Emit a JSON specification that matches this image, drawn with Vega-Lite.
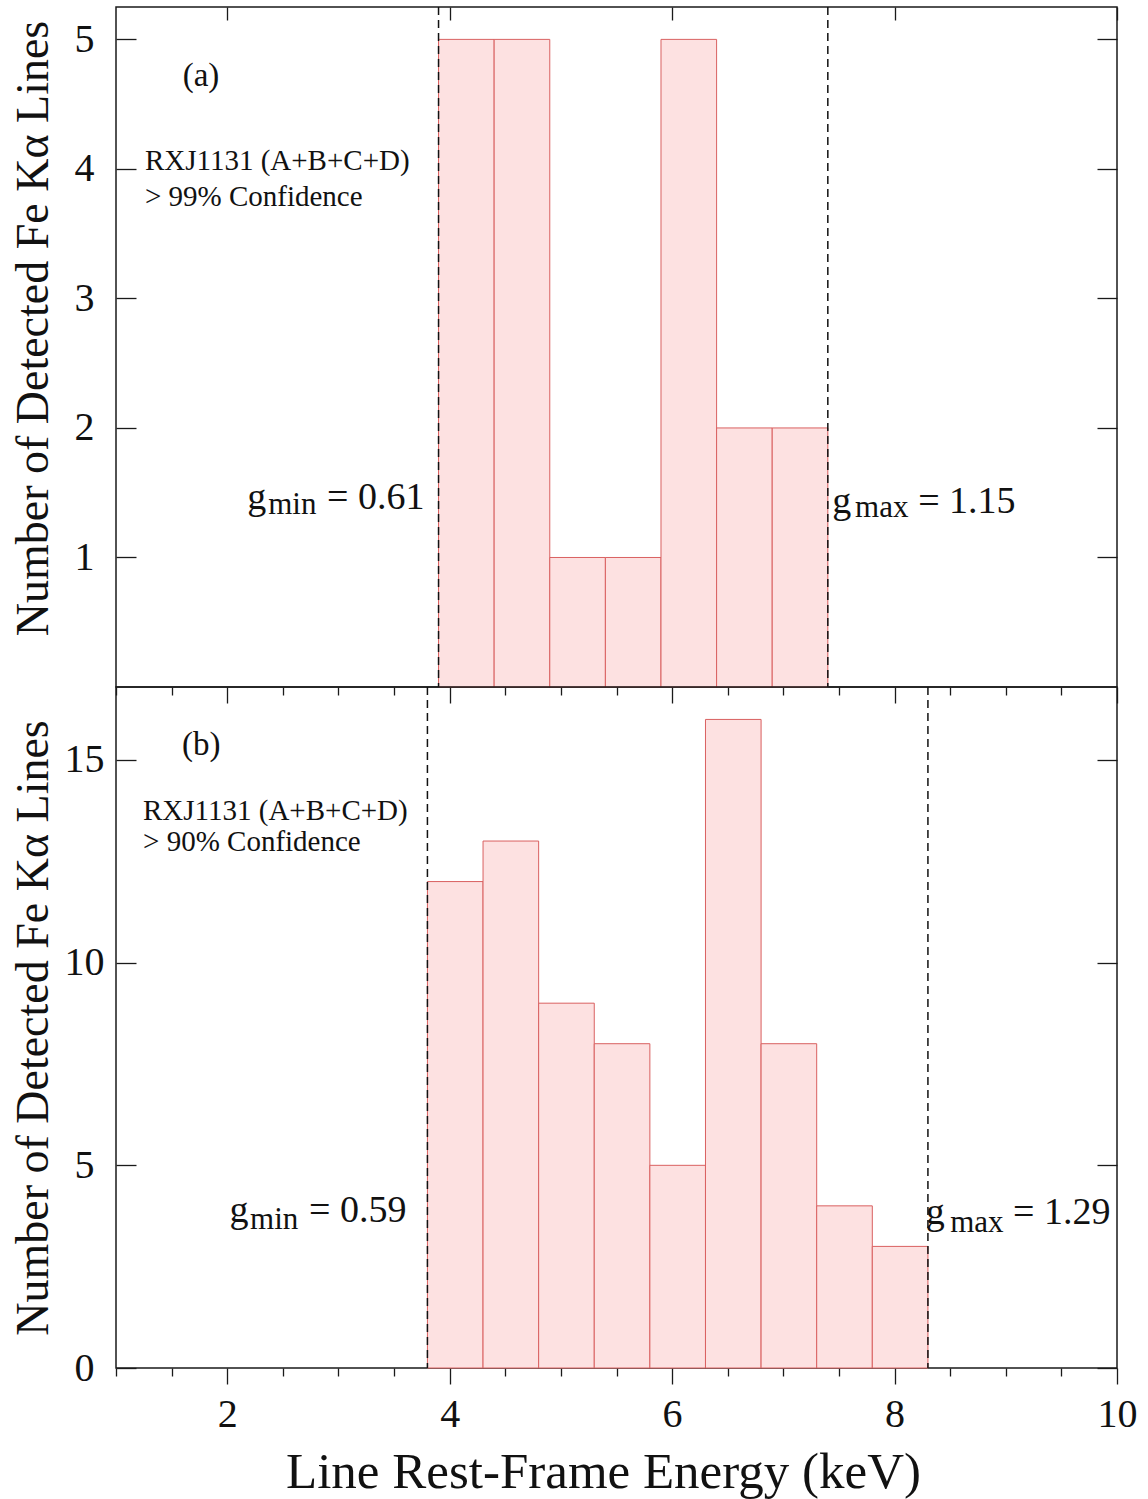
{
  "$schema": "https://vega.github.io/schema/vega-lite/v6.json",
  "padding": {"left": 9, "top": 5, "right": 5, "bottom": 5},
  "bounds": "flush",
  "spacing": 0,
  "config": {
    "font": "Liberation Serif",
    "view": {"stroke": "#1a1a1a", "strokeWidth": 1.5},
    "axis": {"domain": false, "grid": false, "tickColor": "#1a1a1a", "tickWidth": 1.3, "labelColor": "#111", "titleColor": "#111", "labelFont": "Liberation Serif", "titleFont": "Liberation Serif", "titleFontWeight": "normal", "labelFontSize": 40, "titleFontSize": 46, "labelFlush": false, "labelOverlap": false},
    "text": {"color": "#111"}
  },
  "datasets": {
    "barsA": [
      {"lo": 3.9, "hi": 4.4, "n": 5}, {"lo": 4.4, "hi": 4.9, "n": 5}, {"lo": 4.9, "hi": 5.4, "n": 1},
      {"lo": 5.4, "hi": 5.9, "n": 1}, {"lo": 5.9, "hi": 6.4, "n": 5}, {"lo": 6.4, "hi": 6.9, "n": 2},
      {"lo": 6.9, "hi": 7.4, "n": 2}
    ],
    "barsB": [
      {"lo": 3.8, "hi": 4.3, "n": 12}, {"lo": 4.3, "hi": 4.8, "n": 13}, {"lo": 4.8, "hi": 5.3, "n": 9},
      {"lo": 5.3, "hi": 5.8, "n": 8}, {"lo": 5.8, "hi": 6.3, "n": 5}, {"lo": 6.3, "hi": 6.8, "n": 16},
      {"lo": 6.8, "hi": 7.3, "n": 8}, {"lo": 7.3, "hi": 7.8, "n": 4}, {"lo": 7.8, "hi": 8.3, "n": 3}
    ],
    "gA": [{"g": 3.9}, {"g": 7.4}],
    "gB": [{"g": 3.8}, {"g": 8.3}],
    "notesA": [
      {"k": "tag", "t": "(a)", "x": 1.60, "y": 4.72},
      {"k": "info", "t": "RXJ1131 (A+B+C+D)", "x": 1.26, "y": 4.06},
      {"k": "info", "t": "> 99% Confidence", "x": 1.26, "y": 3.78},
      {"k": "main", "t": "g", "x": 2.18, "y": 1.378},
      {"k": "sub", "t": "min", "x": 2.368, "y": 1.332},
      {"k": "main", "t": "= 0.61", "x": 2.897, "y": 1.378},
      {"k": "main", "t": "g", "x": 7.44, "y": 1.347},
      {"k": "sub", "t": "max", "x": 7.645, "y": 1.309},
      {"k": "main", "t": "= 1.15", "x": 8.212, "y": 1.347}
    ],
    "notesB": [
      {"k": "tag", "t": "(b)", "x": 1.593, "y": 15.37},
      {"k": "info", "t": "RXJ1131 (A+B+C+D)", "x": 1.243, "y": 13.74},
      {"k": "info", "t": "> 90% Confidence", "x": 1.243, "y": 12.98},
      {"k": "main", "t": "g", "x": 2.02, "y": 3.6},
      {"k": "sub", "t": "min", "x": 2.205, "y": 3.43},
      {"k": "main", "t": "= 0.59", "x": 2.735, "y": 3.6},
      {"k": "main", "t": "g", "x": 8.28, "y": 3.553},
      {"k": "sub", "t": "max", "x": 8.5, "y": 3.356},
      {"k": "main", "t": "= 1.29", "x": 9.066, "y": 3.553}
    ]
  },
  "vconcat": [
    {
      "width": 1001,
      "height": 680,
      "resolve": {"axis": {"x": "independent", "y": "independent"}},
      "layer": [
        {
          "data": {"name": "barsA"},
          "mark": {"type": "rect", "fill": "#fde1e1", "stroke": "#d96060", "strokeWidth": 1},
          "encoding": {
            "x": {"field": "lo", "type": "quantitative", "scale": {"domain": [1, 10], "nice": false, "zero": false},
              "axis": {"orient": "bottom", "values": [2, 4, 6, 8, 10], "tickSize": 16, "labels": false, "title": null}},
            "x2": {"field": "hi"},
            "y": {"field": "n", "type": "quantitative", "scale": {"domain": [0, 5.25], "nice": false},
              "axis": {"orient": "left", "values": [1, 2, 3, 4, 5], "ticks": false, "tickSize": 0, "labelAlign": "center", "labelBaseline": "middle", "labelPadding": 32, "title": "Number of Detected Fe Kα Lines", "titleX": -69, "titleY": 321, "titleBaseline": "alphabetic"}},
            "y2": {"datum": 0}
          }
        },
        {
          "data": {"name": "gA"},
          "mark": {"type": "rule", "strokeDash": [8, 5], "strokeWidth": 1.5, "color": "#111"},
          "encoding": {
            "x": {"field": "g", "type": "quantitative", "scale": {"domain": [1, 10], "nice": false, "zero": false},
              "axis": {"orient": "bottom", "values": [1, 1.5, 2.5, 3, 3.5, 4.5, 5, 5.5, 6.5, 7, 7.5, 8.5, 9, 9.5], "tickSize": 8, "labels": false, "title": null}}
          }
        },
        {
          "data": {"name": "notesA"},
          "transform": [{"filter": "datum.k === 'info'"}],
          "mark": {"type": "text", "align": "left", "baseline": "middle", "fontSize": 29},
          "encoding": {
            "x": {"field": "x", "type": "quantitative", "scale": {"domain": [1, 10], "nice": false, "zero": false},
              "axis": {"orient": "top", "values": [2, 4, 6, 8, 10], "tickSize": -13, "labels": false, "title": null}},
            "y": {"field": "y", "type": "quantitative", "scale": {"domain": [0, 5.25], "nice": false},
              "axis": {"orient": "right", "values": [1, 2, 3, 4, 5], "tickSize": -20, "labels": false, "title": null}},
            "text": {"field": "t"}
          }
        },
        {
          "data": {"name": "notesA"},
          "transform": [{"filter": "datum.k === 'tag'"}],
          "mark": {"type": "text", "align": "left", "baseline": "middle", "fontSize": 33},
          "encoding": {
            "x": {"field": "x", "type": "quantitative", "scale": {"domain": [1, 10], "nice": false, "zero": false}, "axis": null},
            "y": {"field": "y", "type": "quantitative", "scale": {"domain": [0, 5.25], "nice": false},
              "axis": {"orient": "left", "values": [1, 2, 3, 4, 5], "tickSize": -20, "labels": false, "title": null}},
            "text": {"field": "t"}
          }
        },
        {
          "data": {"name": "notesA"},
          "transform": [{"filter": "datum.k === 'main'"}],
          "mark": {"type": "text", "align": "left", "baseline": "alphabetic", "fontSize": 38},
          "encoding": {
            "x": {"field": "x", "type": "quantitative", "scale": {"domain": [1, 10], "nice": false, "zero": false}, "axis": null},
            "y": {"field": "y", "type": "quantitative", "scale": {"domain": [0, 5.25], "nice": false}, "axis": null},
            "text": {"field": "t"}
          }
        },
        {
          "data": {"name": "notesA"},
          "transform": [{"filter": "datum.k === 'sub'"}],
          "mark": {"type": "text", "align": "left", "baseline": "alphabetic", "fontSize": 31},
          "encoding": {
            "x": {"field": "x", "type": "quantitative", "scale": {"domain": [1, 10], "nice": false, "zero": false}, "axis": null},
            "y": {"field": "y", "type": "quantitative", "scale": {"domain": [0, 5.25], "nice": false}, "axis": null},
            "text": {"field": "t"}
          }
        }
      ]
    },
    {
      "width": 1001,
      "height": 681,
      "resolve": {"axis": {"x": "independent", "y": "independent"}},
      "layer": [
        {
          "data": {"name": "barsB"},
          "mark": {"type": "rect", "fill": "#fde1e1", "stroke": "#d96060", "strokeWidth": 1},
          "encoding": {
            "x": {"field": "lo", "type": "quantitative", "scale": {"domain": [1, 10], "nice": false, "zero": false},
              "axis": {"orient": "bottom", "values": [2, 4, 6, 8, 10], "ticks": false, "tickSize": 0, "labelBaseline": "alphabetic", "labelPadding": 58, "title": "Line Rest-Frame Energy (keV)", "titleFontSize": 51, "titleX": 487, "titleY": 119, "titleBaseline": "alphabetic"}},
            "x2": {"field": "hi"},
            "y": {"field": "n", "type": "quantitative", "scale": {"domain": [0, 16.8], "nice": false},
              "axis": {"orient": "left", "values": [0, 5, 10, 15], "ticks": false, "tickSize": 0, "labelAlign": "center", "labelBaseline": "middle", "labelPadding": 32, "title": "Number of Detected Fe Kα Lines", "titleX": -69, "titleBaseline": "alphabetic"}},
            "y2": {"datum": 0}
          }
        },
        {
          "data": {"name": "gB"},
          "mark": {"type": "rule", "strokeDash": [8, 5], "strokeWidth": 1.5, "color": "#111"},
          "encoding": {
            "x": {"field": "g", "type": "quantitative", "scale": {"domain": [1, 10], "nice": false, "zero": false},
              "axis": {"orient": "bottom", "values": [2, 4, 6, 8, 10], "tickSize": 16, "labels": false, "title": null}}
          }
        },
        {
          "data": {"name": "notesB"},
          "transform": [{"filter": "datum.k === 'info'"}],
          "mark": {"type": "text", "align": "left", "baseline": "middle", "fontSize": 29},
          "encoding": {
            "x": {"field": "x", "type": "quantitative", "scale": {"domain": [1, 10], "nice": false, "zero": false},
              "axis": {"orient": "bottom", "values": [1, 1.5, 2.5, 3, 3.5, 4.5, 5, 5.5, 6.5, 7, 7.5, 8.5, 9, 9.5], "tickSize": 8, "labels": false, "title": null}},
            "y": {"field": "y", "type": "quantitative", "scale": {"domain": [0, 16.8], "nice": false},
              "axis": {"orient": "right", "values": [0, 5, 10, 15], "tickSize": -20, "labels": false, "title": null}},
            "text": {"field": "t"}
          }
        },
        {
          "data": {"name": "notesB"},
          "transform": [{"filter": "datum.k === 'tag'"}],
          "mark": {"type": "text", "align": "left", "baseline": "middle", "fontSize": 33},
          "encoding": {
            "x": {"field": "x", "type": "quantitative", "scale": {"domain": [1, 10], "nice": false, "zero": false}, "axis": null},
            "y": {"field": "y", "type": "quantitative", "scale": {"domain": [0, 16.8], "nice": false},
              "axis": {"orient": "left", "values": [0, 5, 10, 15], "tickSize": -20, "labels": false, "title": null}},
            "text": {"field": "t"}
          }
        },
        {
          "data": {"name": "notesB"},
          "transform": [{"filter": "datum.k === 'main'"}],
          "mark": {"type": "text", "align": "left", "baseline": "alphabetic", "fontSize": 38},
          "encoding": {
            "x": {"field": "x", "type": "quantitative", "scale": {"domain": [1, 10], "nice": false, "zero": false}, "axis": null},
            "y": {"field": "y", "type": "quantitative", "scale": {"domain": [0, 16.8], "nice": false}, "axis": null},
            "text": {"field": "t"}
          }
        },
        {
          "data": {"name": "notesB"},
          "transform": [{"filter": "datum.k === 'sub'"}],
          "mark": {"type": "text", "align": "left", "baseline": "alphabetic", "fontSize": 31},
          "encoding": {
            "x": {"field": "x", "type": "quantitative", "scale": {"domain": [1, 10], "nice": false, "zero": false}, "axis": null},
            "y": {"field": "y", "type": "quantitative", "scale": {"domain": [0, 16.8], "nice": false}, "axis": null},
            "text": {"field": "t"}
          }
        }
      ]
    }
  ]
}
